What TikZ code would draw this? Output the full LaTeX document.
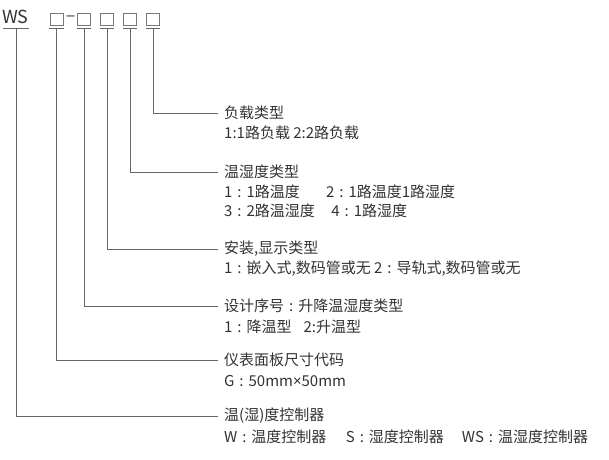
\documentclass[tikz,border=0pt]{standalone}
\usepackage{fontspec}
\setmainfont{Noto Sans CJK SC}
\newfontfamily\latinfont{Noto Sans}
\newcommand{\cc}{\hspace{0.33em}:\hspace{0.33em}}
\definecolor{txt}{HTML}{333333}
\definecolor{ln}{HTML}{666666}
\definecolor{bx}{HTML}{777777}
\begin{document}
\begin{tikzpicture}[x=1pt,y=-1pt,
  lbl/.style={anchor=west,inner sep=0pt,text=txt,font=\fontsize{15pt}{17pt}\selectfont},
  conn/.style={draw=ln,line width=0.9pt},
  slot/.style={draw=bx,line width=0.9pt,minimum width=13pt,minimum height=12pt,inner sep=0pt,anchor=center},
  uline/.style={draw=ln,line width=0.9pt}]
\useasboundingbox (0,0) rectangle (609,459);
\fill[white] (0,0) rectangle (609,459);
% header
\node[lbl,anchor=center,font=\fontsize{18pt}{20pt}\selectfont] (ws) at (15.5,17) {WS};
\node[slot] (b1) at (56.5,19) {};
\node[inner sep=0pt,text=bx,font=\latinfont\fontsize{19pt}{21pt}\selectfont] (dash) at (70.5,18.5) {–};
\node[slot] (b2) at (84,19) {};
\node[slot] (b3) at (107,19) {};
\node[slot] (b4) at (130,19) {};
\node[slot] (b5) at (153,19) {};
\coordinate (u0) at (16.5,28);
\draw[uline] (3,28) -- (29,28);
\draw[uline] (49,28) -- (64,28);
\draw[uline] (77,28) -- (91,28);
\draw[uline] (100,28) -- (114,28);
\draw[uline] (123,28) -- (137,28);
\draw[uline] (146,28) -- (160,28);
% labels
\node[lbl] (t5a) at (224,113) {负载类型};
\node[lbl] (t5b) at (224,133) {1:1路负载 2:2路负载};
\node[lbl] (t4a) at (224,172) {温湿度类型};
\node[lbl] (t4b) at (224,192) {1\cc 1路温度\hspace{1.75em}2\cc 1路温度1路湿度};
\node[lbl] (t4c) at (224,211) {3\cc 2路温湿度\hspace{1.1em}4\cc 1路湿度};
\node[lbl] (t3a) at (224,249) {安装,显示类型};
\node[lbl] (t3b) at (224,269) {1\cc 嵌入式,数码管或无 2\cc 导轨式,数码管或无};
\node[lbl] (t2a) at (224,306) {设计序号\cc 升降温湿度类型};
\node[lbl] (t2b) at (224,327) {1\cc 降温型\hspace{0.8em}2:升温型};
\node[lbl] (t1a) at (224,360) {仪表面板尺寸代码};
\node[lbl] (t1b) at (224,381) {G\cc 50mm{\latinfont ×}50mm};
\node[lbl] (t0a) at (224,416) {温(湿)度控制器};
\node[lbl] (t0b) at (224,437) {W\cc 温度控制器\hspace{1.3em}S\cc 湿度控制器\hspace{1.2em}WS\cc 温湿度控制器};
% connectors
\draw[conn] (b5.south |- 0,28) |- ([xshift=-6pt]t5a.west);
\draw[conn] (b4.south |- 0,28) |- ([xshift=-6pt]t4a.west);
\draw[conn] (b3.south |- 0,28) |- ([xshift=-6pt]t3a.west);
\draw[conn] (b2.south |- 0,28) |- ([xshift=-6pt]t2a.west);
\draw[conn] (b1.south |- 0,28) |- ([xshift=-6pt]t1a.west);
\draw[conn] (u0) |- ([xshift=-6pt]t0a.west);
\end{tikzpicture}
\end{document}
